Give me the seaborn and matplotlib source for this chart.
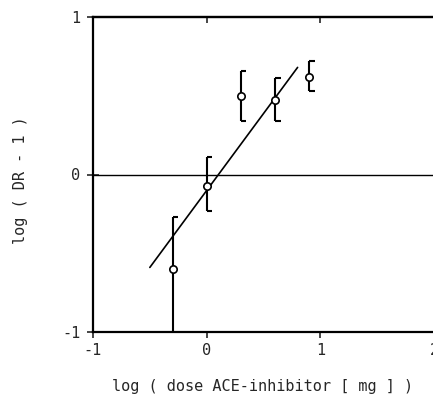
import matplotlib
matplotlib.use("Agg")
import matplotlib.pyplot as plt
import seaborn as sns
import pandas as pd

# data
dose_log = [-0.3, 0.0, 0.3, 0.6, 0.9]
dr_log = [-0.60, -0.07, 0.50, 0.47, 0.62]
err_top = [-0.27, 0.11, 0.66, 0.61, 0.72]
err_bottom = [-1.10, -0.23, 0.34, 0.34, 0.53]
fit_x = [-0.5, 0.8]
fit_y = [-0.59, 0.68]
x_ticks = [-1, 0, 1, 2]
y_ticks = [-1, 0, 1]

sns.set_style("ticks")
plt.rcParams['font.family'] = ['DejaVu Sans Mono', 'DejaVu Sans']

fig = plt.figure(figsize=(4.33, 4.04), dpi=100)
ax = fig.add_axes([93/433, 72/404, 341/433, 315/404])

df = pd.DataFrame({"x": dose_log, "y": dr_log})
fit = pd.DataFrame({"x": fit_x, "y": fit_y})

# zero reference line
ax.axhline(0, color="black", lw=1.0, zorder=1)

# regression line
sns.lineplot(data=fit, x="x", y="y", ax=ax, color="black", lw=1.2, zorder=2)

# error bars with one-sided caps
cap = 0.05
for x, lo, hi in zip(dose_log, err_bottom, err_top):
    ax.vlines(x, lo, hi, color="black", lw=1.5, zorder=3)
    ax.hlines([lo, hi], x, x + cap, color="black", lw=1.5, zorder=3)

# markers
sns.scatterplot(data=df, x="x", y="y", ax=ax, marker="o", s=28,
                facecolor="white", edgecolor="black", linewidth=1.2, zorder=4)

ax.set_xlim(-1, 2)
ax.set_ylim(-1, 1)
ax.set_xticks(x_ticks)
ax.set_yticks(y_ticks)
ax.set_xticklabels([str(t) for t in x_ticks], fontsize=11)
ax.set_yticklabels([str(t) for t in y_ticks], fontsize=11)
ax.tick_params(axis="y", direction="inout", length=8, width=1.2, pad=5)
ax.tick_params(axis="x", direction="out", length=4, width=1.2, pad=4)

top = ax.secondary_xaxis("top")
top.set_xticks([0, 1])
top.tick_params(direction="in", length=4, width=1.2, labeltop=False)
top.spines["top"].set_linewidth(1.6)

for side in ["left", "bottom", "top"]:
    ax.spines[side].set_linewidth(1.6)
    ax.spines[side].set_color("black")
ax.spines["right"].set_visible(False)

ax.set_xlabel("log ( dose ACE-inhibitor [ mg ] )", fontsize=11, va="center")
ax.set_ylabel("log ( DR - 1 )", fontsize=11, va="center")
ax.xaxis.set_label_coords((263 - 93) / 341, (404 - 387 - 72) / 315)
ax.yaxis.set_label_coords((21 - 93) / 341, (404 - 180 - 72) / 315)

fig.savefig("out.png", dpi=100)
